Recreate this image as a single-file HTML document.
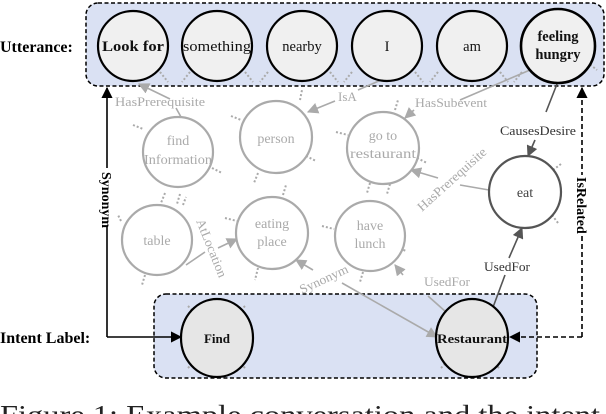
<!DOCTYPE html>
<html><head><meta charset="utf-8"><style>
html,body{margin:0;padding:0;background:#fff;width:606px;height:414px;overflow:hidden}
svg{display:block}
text{font-family:"Liberation Serif","Times New Roman",serif}
</style></head><body>
<svg width="606" height="414" viewBox="0 0 606 414" xmlns="http://www.w3.org/2000/svg" font-family="Liberation Serif, serif">
<defs>
<marker id="ag" viewBox="0 0 10 10" refX="9" refY="5" markerWidth="7" markerHeight="7" orient="auto"><path d="M0,0L10,5L0,10z" fill="#aaa"/></marker>
<marker id="ad" viewBox="0 0 10 10" refX="9" refY="5" markerWidth="7" markerHeight="7" orient="auto"><path d="M0,0L10,5L0,10z" fill="#555"/></marker>
<marker id="ab" viewBox="0 0 10 10" refX="9" refY="5" markerWidth="7" markerHeight="7" orient="auto"><path d="M0,0L10,5L0,10z" fill="#000"/></marker>
</defs>
<rect x="86" y="3" width="518" height="83" rx="12" fill="#dae1f3" stroke="#000" stroke-width="1.5" stroke-dasharray="4,2.5"/>
<rect x="154" y="294" width="383" height="84" rx="12" fill="#dae1f3" stroke="#000" stroke-width="1.5" stroke-dasharray="4,2.5"/>

<g stroke="#aaa" stroke-width="2" stroke-dasharray="2,2">
<path d="M160,72l8,10M190,72l-8,10M245,72l8,10M268,72l-8,10M330,72l8,10M352,72l-8,10M415,72l8,10M438,72l-8,10M500,72l8,10M522,72l-8,10M587,62l10,8"/>
<path d="M133,125l10,4M212,168l10,5M165,193l-4,10M180,194l-3,10"/>
<path d="M231,116l10,4M306,156l10,5M258,173l-4,10M300,100l2,-10"/>
<path d="M336,132l12,3M417,158l10,5M370,183l-3,10M390,184l-3,10M395,110l3,-10"/>
<path d="M553,170l8,-6M552,215l6,8"/>
<path d="M121,221l-3,-6M145,275l-3,10M183,205l3,-8"/>
<path d="M225,218l12,3M292,245l10,4M258,268l-3,12M283,195l3,-10"/>
<path d="M322,226l12,3M396,247l10,4M363,272l-3,10"/>
<path d="M188,306l8,8M245,306l-8,8M188,368l8,-8M245,368l-8,-8M441,368l8,-8M499,368l-8,-8"/>
</g>

<g stroke="#aaa" stroke-width="1.6" fill="none">
<path d="M170,99 L139,84" marker-end="url(#ag)"/>
<path d="M176,108 L181,117"/>
<path d="M388,77 L358,90"/>
<path d="M335,101 L308,112" marker-end="url(#ag)"/>
<path d="M530,70 L460,100"/>
<path d="M414,110 L405,118" marker-end="url(#ag)"/>
<path d="M489,190 L460,185"/>
<path d="M438,178 L411,170" marker-end="url(#ag)"/>
<path d="M186,265 L205,252"/>
<path d="M218,248 L237,239" marker-end="url(#ag)"/>
<path d="M313,270 L296,260" marker-end="url(#ag)"/>
<path d="M446,312 L428,296"/>
<path d="M403,275 L395,265" marker-end="url(#ag)"/>
<path d="M342,283 L437,337" marker-end="url(#ag)"/>
</g>
<g stroke="#555" stroke-width="1.6" fill="none">
<path d="M557,84 L546,112"/>
<path d="M535,140 L528,156" marker-end="url(#ad)"/>
<path d="M492,310 L505,275"/>
<path d="M509,258 L522,228" marker-end="url(#ad)"/>
</g>

<g fill="#fff" stroke="#aaa" stroke-width="2.2">
<circle cx="178" cy="152" r="35"/>
<circle cx="276" cy="137" r="36"/>
<circle cx="383" cy="148" r="36"/>
<circle cx="157" cy="240" r="35"/>
<circle cx="272" cy="233" r="36"/>
<circle cx="370" cy="236" r="35"/>
</g>
<circle cx="525" cy="192" r="36" fill="#fff" stroke="#555" stroke-width="2.2"/>

<g fill="#aaa" font-size="14" text-anchor="middle">
<text x="178" y="145">find</text><text x="178" y="164" textLength="68" lengthAdjust="spacingAndGlyphs">Information</text>
<text x="276" y="143">person</text>
<text x="383" y="140">go to</text><text x="383" y="158" textLength="66" lengthAdjust="spacingAndGlyphs">restaurant</text>
<text x="157" y="245">table</text>
<text x="272" y="228">eating</text><text x="272" y="246">place</text>
<text x="370" y="230">have</text><text x="370" y="248">lunch</text>
</g>
<text x="525" y="197" fill="#444" font-size="14" text-anchor="middle">eat</text>

<g fill="#aaa" font-size="13">
<text x="115" y="106" textLength="90" lengthAdjust="spacingAndGlyphs">HasPrerequisite</text>
<text x="338" y="101">IsA</text>
<text x="415" y="107" textLength="72" lengthAdjust="spacingAndGlyphs">HasSubevent</text>
<text x="424" y="286" textLength="46" lengthAdjust="spacingAndGlyphs">UsedFor</text>
<text transform="translate(422,212) rotate(-42)" textLength="88" lengthAdjust="spacingAndGlyphs">HasPrerequisite</text>
<text transform="translate(196,221) rotate(68)" textLength="62" lengthAdjust="spacingAndGlyphs">AtLocation</text>
<text transform="translate(302,294) rotate(-25)" textLength="52" lengthAdjust="spacingAndGlyphs">Synonym</text>
</g>
<g fill="#333" font-size="13">
<text x="500" y="135" textLength="76" lengthAdjust="spacingAndGlyphs">CausesDesire</text>
<text x="484" y="271" textLength="46" lengthAdjust="spacingAndGlyphs">UsedFor</text>
</g>

<g fill="#f0f0f0" stroke="#000" stroke-width="2.2">
<circle cx="133" cy="46" r="35"/>
<circle cx="217" cy="46" r="35"/>
<circle cx="302" cy="46" r="35"/>
<circle cx="387" cy="46" r="35"/>
<circle cx="472" cy="46" r="35"/>
<circle cx="558" cy="46" r="37" stroke-width="2.6"/>
<ellipse cx="217" cy="338" rx="36" ry="39" fill="#e6e6e6"/>
<ellipse cx="472" cy="338" rx="36" ry="39" fill="#e6e6e6"/>
</g>
<g fill="#111" font-size="14.5" text-anchor="middle">
<text x="133" y="51" font-weight="bold" textLength="62" lengthAdjust="spacingAndGlyphs">Look for</text>
<text x="217" y="51" textLength="68" lengthAdjust="spacingAndGlyphs">something</text>
<text x="302" y="51">nearby</text>
<text x="387" y="51">I</text>
<text x="472" y="51">am</text>
<text x="558" y="41" font-weight="bold">feeling</text>
<text x="558" y="59" font-weight="bold">hungry</text>
<text x="217" y="343" font-weight="bold" font-size="13">Find</text>
<text x="472" y="343" font-weight="bold" font-size="13" textLength="70" lengthAdjust="spacingAndGlyphs">Restaurant</text>
</g>

<path d="M107,337 L107,88" stroke="#000" stroke-width="1.6" fill="none" marker-end="url(#ab)"/>
<path d="M107,337 L181,337" stroke="#000" stroke-width="1.6" fill="none" marker-end="url(#ab)"/>
<path d="M582,337 L510,337" stroke="#000" stroke-width="1.6" fill="none" stroke-dasharray="5,3" marker-end="url(#ab)"/>
<path d="M582,337 L582,88" stroke="#000" stroke-width="1.6" fill="none" stroke-dasharray="5,3" marker-end="url(#ab)"/>
<rect x="99" y="168" width="16" height="58" fill="#fff"/>
<text transform="translate(102,172) rotate(90)" font-size="14" font-weight="bold">Synonym</text>
<rect x="574" y="175" width="16" height="60" fill="#fff"/>
<text transform="translate(577,177) rotate(90)" font-size="14" font-weight="bold">IsRelated</text>

<text x="0" y="52" font-size="16" font-weight="bold">Utterance:</text>
<text x="0" y="343" font-size="16" font-weight="bold">Intent Label:</text>

<text x="0" y="424" font-size="27" fill="#222" textLength="600" lengthAdjust="spacingAndGlyphs">Figure 1: Example conversation and the intent</text>
</svg>
</body></html>
